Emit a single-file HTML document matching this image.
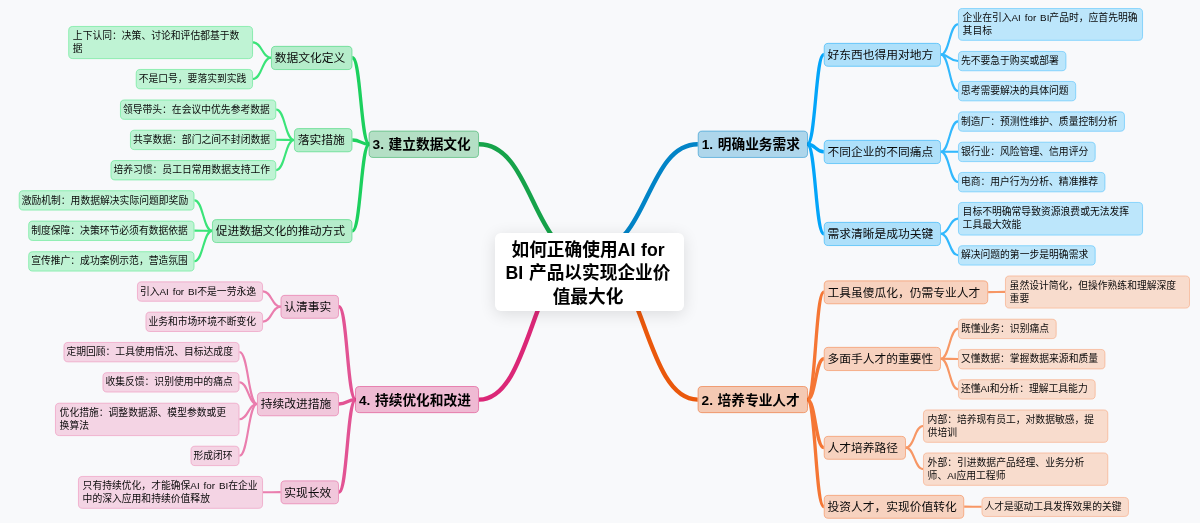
<!DOCTYPE html>
<html lang="zh-CN">
<head>
<meta charset="utf-8">
<title>如何正确使用AI for BI 产品以实现企业价值最大化</title>
<style>
*{box-sizing:border-box;margin:0;padding:0}
html,body{width:1200px;height:523px;overflow:hidden;background:#f8f9fb}
body{font-family:"Liberation Sans","Noto Sans CJK SC",sans-serif;color:#222;position:relative}
#map{position:absolute;left:0;top:0;width:1200px;height:523px;overflow:hidden;filter:blur(.3px)}
svg{position:absolute;left:0;top:0}
path{fill:none;stroke-linecap:butt}
rect{stroke-width:0.9}
.k1{stroke-width:4.4}
.k2{stroke-width:3.3}
.k3{stroke-width:2.1}
.n{position:absolute;white-space:nowrap}
.l3{word-spacing:1.2px;font-size:9.8px;line-height:13px;color:#0a0a0a}
.l2{font-size:11.75px;line-height:16px;color:#0a0a0a}
.l1{word-spacing:.8px;font-size:13.7px;line-height:18px;color:#000;font-weight:bold}
#root{word-spacing:.8px;position:absolute;left:494.8px;top:232.9px;width:189.3px;height:78.3px;background:#fff;border-radius:6px;box-shadow:0 3px 16px rgba(0,0,0,.12);font-size:17.7px;line-height:23.2px;font-weight:bold;color:#000;text-align:center;display:flex;align-items:center;justify-content:center;white-space:nowrap}
.r1.blue{fill:rgba(2,132,199,0.3);stroke:rgba(2,132,199,0.55)}
.r2.blue{fill:rgba(3,165,249,0.3);stroke:rgba(3,165,249,0.55)}
.r3.blue{fill:rgba(50,184,253,0.3);stroke:rgba(50,184,253,0.55)}
.r1.green{fill:rgba(22,163,74,0.3);stroke:rgba(22,163,74,0.55)}
.r2.green{fill:rgba(28,208,94,0.3);stroke:rgba(28,208,94,0.55)}
.r3.green{fill:rgba(59,228,121,0.3);stroke:rgba(59,228,121,0.55)}
.r1.orange{fill:rgba(234,88,12,0.3);stroke:rgba(234,88,12,0.55)}
.r2.orange{fill:rgba(245,118,52,0.3);stroke:rgba(245,118,52,0.55)}
.r3.orange{fill:rgba(247,151,101,0.3);stroke:rgba(247,151,101,0.55)}
.r1.pink{fill:rgba(219,39,119,0.3);stroke:rgba(219,39,119,0.55)}
.r2.pink{fill:rgba(226,83,147,0.3);stroke:rgba(226,83,147,0.55)}
.r3.pink{fill:rgba(234,126,174,0.3);stroke:rgba(234,126,174,0.55)}
</style>
</head>
<body>
<div id="map">
<svg width="1200" height="523" viewBox="0 0 1200 523">
<g id="links">
<path class="k1" stroke="#16a34a" d="M586.4,256.7C532.7,256.7 532.7,144.25 479,144.25"/>
<path class="k2" stroke="#1cd05e" d="M369.2,144.25C360.83,144.25 360.83,57.75 352.45,57.75"/>
<path class="k3" stroke="#3be479" d="M271,57.75C262,57.75 262,42.38 253,42.38"/>
<path class="k3" stroke="#3be479" d="M271,57.75C262,57.75 262,79 253,79"/>
<path class="k2" stroke="#1cd05e" d="M369.2,144.25C360.83,144.25 360.83,140 352.45,140"/>
<path class="k3" stroke="#3be479" d="M294,140C285.12,140 285.12,109.5 276.25,109.5"/>
<path class="k3" stroke="#3be479" d="M294,140C285.12,140 285.12,139.75 276.25,139.75"/>
<path class="k3" stroke="#3be479" d="M294,140C285.12,140 285.12,170.1 276.25,170.1"/>
<path class="k2" stroke="#1cd05e" d="M369.2,144.25C360.83,144.25 360.83,230.88 352.45,230.88"/>
<path class="k3" stroke="#3be479" d="M212,230.88C203.25,230.88 203.25,200.25 194.5,200.25"/>
<path class="k3" stroke="#3be479" d="M212,230.88C203.25,230.88 203.25,230.6 194.5,230.6"/>
<path class="k3" stroke="#3be479" d="M212,230.88C203.25,230.88 203.25,261.25 194.5,261.25"/>
<path class="k1" stroke="#db2777" d="M585.8,250.4C532.4,250.4 532.4,399.58 479,399.58"/>
<path class="k2" stroke="#e25393" d="M355.6,399.58C347.27,399.58 347.27,306.62 338.95,306.62"/>
<path class="k3" stroke="#ea7eae" d="M280.5,306.62C271.75,306.62 271.75,291.4 263,291.4"/>
<path class="k3" stroke="#ea7eae" d="M280.5,306.62C271.75,306.62 271.75,321.65 263,321.65"/>
<path class="k2" stroke="#e25393" d="M355.6,399.58C347.27,399.58 347.27,404 338.95,404"/>
<path class="k3" stroke="#ea7eae" d="M257,404C248.25,404 248.25,352 239.5,352"/>
<path class="k3" stroke="#ea7eae" d="M257,404C248.25,404 248.25,382.2 239.5,382.2"/>
<path class="k3" stroke="#ea7eae" d="M257,404C248.25,404 248.25,419.25 239.5,419.25"/>
<path class="k3" stroke="#ea7eae" d="M257,404C248.25,404 248.25,455.75 239.5,455.75"/>
<path class="k2" stroke="#e25393" d="M355.6,399.58C347.27,399.58 347.27,492.12 338.95,492.12"/>
<path class="k3" stroke="#ea7eae" d="M280.5,492.12C271.75,492.12 271.75,492.25 263,492.25"/>
<path class="k1" stroke="#0284c7" d="M596.7,248.4C647.23,248.4 647.23,144.25 697.75,144.25"/>
<path class="k2" stroke="#03a5f9" d="M807.4,144.25C815.58,144.25 815.58,54.62 823.75,54.62"/>
<path class="k3" stroke="#32b8fd" d="M940.95,54.62C949.48,54.62 949.48,24.25 958,24.25"/>
<path class="k3" stroke="#32b8fd" d="M940.95,54.62C949.48,54.62 949.48,60.95 958,60.95"/>
<path class="k3" stroke="#32b8fd" d="M940.95,54.62C949.48,54.62 949.48,91 958,91"/>
<path class="k2" stroke="#03a5f9" d="M807.4,144.25C815.58,144.25 815.58,151.75 823.75,151.75"/>
<path class="k3" stroke="#32b8fd" d="M940.95,151.75C949.48,151.75 949.48,121.4 958,121.4"/>
<path class="k3" stroke="#32b8fd" d="M940.95,151.75C949.48,151.75 949.48,151.75 958,151.75"/>
<path class="k3" stroke="#32b8fd" d="M940.95,151.75C949.48,151.75 949.48,182 958,182"/>
<path class="k2" stroke="#03a5f9" d="M807.4,144.25C815.58,144.25 815.58,233.75 823.75,233.75"/>
<path class="k3" stroke="#32b8fd" d="M940.95,233.75C949.48,233.75 949.48,218.62 958,218.62"/>
<path class="k3" stroke="#32b8fd" d="M940.95,233.75C949.48,233.75 949.48,255.25 958,255.25"/>
<path class="k1" stroke="#ea580c" d="M590.1,251.6C643.85,251.6 643.85,399.58 697.6,399.58"/>
<path class="k2" stroke="#f57634" d="M807.4,399.58C815.58,399.58 815.58,292.12 823.75,292.12"/>
<path class="k3" stroke="#f79765" d="M988.2,292.12C996.6,292.12 996.6,291.88 1005,291.88"/>
<path class="k2" stroke="#f57634" d="M807.4,399.58C815.58,399.58 815.58,358.75 823.75,358.75"/>
<path class="k3" stroke="#f79765" d="M940.95,358.75C949.48,358.75 949.48,328.75 958,328.75"/>
<path class="k3" stroke="#f79765" d="M940.95,358.75C949.48,358.75 949.48,359.05 958,359.05"/>
<path class="k3" stroke="#f79765" d="M940.95,358.75C949.48,358.75 949.48,389.25 958,389.25"/>
<path class="k2" stroke="#f57634" d="M807.4,399.58C815.58,399.58 815.58,447.62 823.75,447.62"/>
<path class="k3" stroke="#f79765" d="M905.95,447.62C914.48,447.62 914.48,426 923,426"/>
<path class="k3" stroke="#f79765" d="M905.95,447.62C914.48,447.62 914.48,469 923,469"/>
<path class="k2" stroke="#f57634" d="M807.4,399.58C815.58,399.58 815.58,506.62 823.75,506.62"/>
<path class="k3" stroke="#f79765" d="M964.2,506.62C972.85,506.62 972.85,506.8 981.5,506.8"/>
</g>
<g id="boxes">
<rect class="r1 green" x="369.05" y="131.05" width="109.5" height="26.4" rx="4.05"/>
<rect class="r2 green" x="271.45" y="46.35" width="80.55" height="23.2" rx="4.05"/>
<rect class="r3 green" x="68.7" y="26.45" width="183.85" height="32.15" rx="4.05"/>
<rect class="r3 green" x="136.2" y="69.45" width="116.35" height="19.4" rx="4.05"/>
<rect class="r2 green" x="294.45" y="128.6" width="57.55" height="23.2" rx="4.05"/>
<rect class="r3 green" x="120.45" y="99.95" width="155.35" height="19.4" rx="4.05"/>
<rect class="r3 green" x="130.45" y="130.2" width="145.35" height="19.4" rx="4.05"/>
<rect class="r3 green" x="110.95" y="160.55" width="164.85" height="19.4" rx="4.05"/>
<rect class="r2 green" x="212.45" y="219.6" width="139.55" height="22.95" rx="4.05"/>
<rect class="r3 green" x="19.2" y="190.7" width="174.85" height="19.4" rx="4.05"/>
<rect class="r3 green" x="28.7" y="221.05" width="165.35" height="19.4" rx="4.05"/>
<rect class="r3 green" x="28.7" y="251.7" width="165.35" height="19.4" rx="4.05"/>
<rect class="r1 pink" x="355.45" y="386.5" width="123.1" height="26.15" rx="4.05"/>
<rect class="r2 pink" x="280.95" y="295.35" width="57.55" height="22.95" rx="4.05"/>
<rect class="r3 pink" x="137.45" y="281.85" width="125.1" height="19.4" rx="4.05"/>
<rect class="r3 pink" x="145.95" y="312.1" width="116.6" height="19.4" rx="4.05"/>
<rect class="r2 pink" x="257.45" y="392.6" width="81.05" height="23.2" rx="4.05"/>
<rect class="r3 pink" x="63.95" y="342.45" width="175.1" height="19.4" rx="4.05"/>
<rect class="r3 pink" x="102.95" y="372.65" width="136.1" height="19.4" rx="4.05"/>
<rect class="r3 pink" x="55.45" y="403.2" width="183.6" height="32.4" rx="4.05"/>
<rect class="r3 pink" x="190.95" y="446.2" width="48.1" height="19.4" rx="4.05"/>
<rect class="r2 pink" x="280.95" y="480.85" width="57.55" height="22.95" rx="4.05"/>
<rect class="r3 pink" x="78.45" y="476.45" width="184.1" height="31.9" rx="4.05"/>
<rect class="r1 blue" x="698.2" y="131.05" width="109.35" height="26.4" rx="4.05"/>
<rect class="r2 blue" x="824.2" y="43.35" width="116.3" height="22.95" rx="4.05"/>
<rect class="r3 blue" x="958.45" y="8.45" width="184.1" height="31.9" rx="4.05"/>
<rect class="r3 blue" x="958.45" y="51.45" width="107.5" height="19.3" rx="4.05"/>
<rect class="r3 blue" x="958.45" y="81.45" width="117.25" height="19.4" rx="4.05"/>
<rect class="r2 blue" x="824.2" y="140.35" width="116.3" height="23.2" rx="4.05"/>
<rect class="r3 blue" x="958.45" y="111.85" width="166" height="19.4" rx="4.05"/>
<rect class="r3 blue" x="958.45" y="142.2" width="136.75" height="19.4" rx="4.05"/>
<rect class="r3 blue" x="958.45" y="172.45" width="146.5" height="19.4" rx="4.05"/>
<rect class="r2 blue" x="824.2" y="222.35" width="116.3" height="23.2" rx="4.05"/>
<rect class="r3 blue" x="958.45" y="202.45" width="184.1" height="32.65" rx="4.05"/>
<rect class="r3 blue" x="958.45" y="245.7" width="136.75" height="19.4" rx="4.05"/>
<rect class="r1 orange" x="698.05" y="386.5" width="109.5" height="26.15" rx="4.05"/>
<rect class="r2 orange" x="824.2" y="280.85" width="163.55" height="22.95" rx="4.05"/>
<rect class="r3 orange" x="1005.45" y="275.95" width="184.1" height="32.15" rx="4.05"/>
<rect class="r2 orange" x="824.2" y="347.35" width="116.3" height="23.2" rx="4.05"/>
<rect class="r3 orange" x="958.45" y="319.2" width="97.75" height="19.4" rx="4.05"/>
<rect class="r3 orange" x="958.45" y="349.45" width="146.5" height="19.5" rx="4.05"/>
<rect class="r3 orange" x="958.45" y="379.7" width="136.75" height="19.4" rx="4.05"/>
<rect class="r2 orange" x="824.2" y="436.35" width="81.3" height="22.95" rx="4.05"/>
<rect class="r3 orange" x="923.45" y="409.95" width="184.35" height="32.4" rx="4.05"/>
<rect class="r3 orange" x="923.45" y="452.95" width="184.35" height="32.4" rx="4.05"/>
<rect class="r2 orange" x="824.2" y="495.35" width="139.55" height="22.95" rx="4.05"/>
<rect class="r3 orange" x="981.95" y="497.45" width="146.5" height="19" rx="4.05"/>
</g>
</svg>
<div id="root"><span style="position:relative;top:2px;left:-1.4px">如何正确使用AI for<br>BI 产品以实现企业价<br>值最大化</span></div>
<div class="n l1" style="left:372.6px;top:136px">3. 建立数据文化</div>
<div class="n l2" style="left:274.7px;top:50px">数据文化定义</div>
<div class="n l3" style="left:72.85px;top:29px">上下认同：决策、讨论和评估都基于数<br>据</div>
<div class="n l3" style="left:138.65px;top:72px">不是口号，要落实到实践</div>
<div class="n l2" style="left:297.7px;top:132px">落实措施</div>
<div class="n l3" style="left:122.9px;top:103px">领导带头：在会议中优先参考数据</div>
<div class="n l3" style="left:132.9px;top:133px">共享数据：部门之间不封闭数据</div>
<div class="n l3" style="left:113.4px;top:163px">培养习惯：员工日常用数据支持工作</div>
<div class="n l2" style="left:215.7px;top:223px">促进数据文化的推动方式</div>
<div class="n l3" style="left:21.65px;top:194px">激励机制：用数据解决实际问题即奖励</div>
<div class="n l3" style="left:31.15px;top:224px">制度保障：决策环节必须有数据依据</div>
<div class="n l3" style="left:31.15px;top:254px">宣传推广：成功案例示范，营造氛围</div>
<div class="n l1" style="left:359px;top:392px">4. 持续优化和改进</div>
<div class="n l2" style="left:284.2px;top:299px">认清事实</div>
<div class="n l3" style="left:139.9px;top:285px">引入AI for BI不是一劳永逸</div>
<div class="n l3" style="left:148.4px;top:315px">业务和市场环境不断变化</div>
<div class="n l2" style="left:260.7px;top:396px">持续改进措施</div>
<div class="n l3" style="left:66.4px;top:345px">定期回顾：工具使用情况、目标达成度</div>
<div class="n l3" style="left:105.4px;top:375px">收集反馈：识别使用中的痛点</div>
<div class="n l3" style="left:59.6px;top:406px">优化措施：调整数据源、模型参数或更<br>换算法</div>
<div class="n l3" style="left:193.4px;top:449px">形成闭环</div>
<div class="n l2" style="left:284.2px;top:485px">实现长效</div>
<div class="n l3" style="left:82.6px;top:479px">只有持续优化，才能确保AI for BI在企业<br>中的深入应用和持续价值释放</div>
<div class="n l1" style="left:701.75px;top:136px">1. 明确业务需求</div>
<div class="n l2" style="left:827.45px;top:47px">好东西也得用对地方</div>
<div class="n l3" style="left:962.6px;top:11px">企业在引入AI for BI产品时，应首先明确<br>其目标</div>
<div class="n l3" style="left:960.9px;top:54px">先不要急于购买或部署</div>
<div class="n l3" style="left:960.9px;top:84px">思考需要解决的具体问题</div>
<div class="n l2" style="left:827.45px;top:144px">不同企业的不同痛点</div>
<div class="n l3" style="left:960.9px;top:115px">制造厂：预测性维护、质量控制分析</div>
<div class="n l3" style="left:960.9px;top:145px">银行业：风险管理、信用评分</div>
<div class="n l3" style="left:960.9px;top:175px">电商：用户行为分析、精准推荐</div>
<div class="n l2" style="left:827.45px;top:226px">需求清晰是成功关键</div>
<div class="n l3" style="left:962.6px;top:205px">目标不明确常导致资源浪费或无法发挥<br>工具最大效能</div>
<div class="n l3" style="left:960.9px;top:248px">解决问题的第一步是明确需求</div>
<div class="n l1" style="left:701.6px;top:392px">2. 培养专业人才</div>
<div class="n l2" style="left:827.45px;top:285px">工具虽傻瓜化，仍需专业人才</div>
<div class="n l3" style="left:1009.6px;top:279px">虽然设计简化，但操作熟练和理解深度<br>重要</div>
<div class="n l2" style="left:827.45px;top:351px">多面手人才的重要性</div>
<div class="n l3" style="left:960.9px;top:322px">既懂业务：识别痛点</div>
<div class="n l3" style="left:960.9px;top:352px">又懂数据：掌握数据来源和质量</div>
<div class="n l3" style="left:960.9px;top:382px">还懂AI和分析：理解工具能力</div>
<div class="n l2" style="left:827.45px;top:440px">人才培养路径</div>
<div class="n l3" style="left:927.6px;top:413px">内部：培养现有员工，对数据敏感，提<br>供培训</div>
<div class="n l3" style="left:927.6px;top:456px">外部：引进数据产品经理、业务分析<br>师、AI应用工程师</div>
<div class="n l2" style="left:827.45px;top:499px">投资人才，实现价值转化</div>
<div class="n l3" style="left:984.4px;top:500px">人才是驱动工具发挥效果的关键</div>
</div>
</body>
</html>
